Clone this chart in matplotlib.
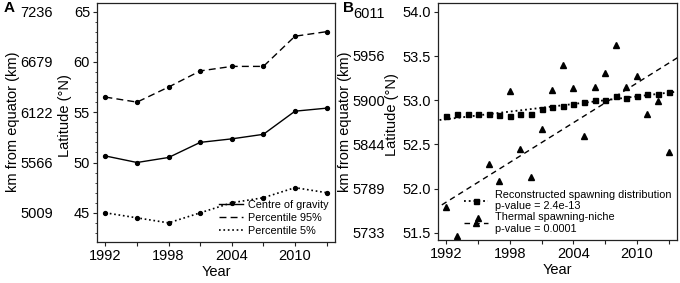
import numpy as np
import matplotlib
matplotlib.use('Agg')
import matplotlib.pyplot as plt
from matplotlib.lines import Line2D
from matplotlib.ticker import MultipleLocator

plt.rcParams['font.family'] = ['Liberation Sans', 'DejaVu Sans']

# panel A - latitude of centre of gravity and percentiles
years_a = [1992, 1995, 1998, 2001, 2004, 2007, 2010, 2013]
centre = [50.65, 50.0, 50.5, 52.0, 52.35, 52.8, 55.1, 55.4]
p95 = [56.5, 56.0, 57.5, 59.1, 59.55, 59.55, 62.55, 63.0]
p5 = [45.0, 44.5, 44.0, 45.0, 46.0, 46.5, 47.5, 47.0]
lat_ticks_a = [45, 50, 55, 60, 65]
km_ticks_a = [5009, 5566, 6122, 6679, 7236]

# panel B - yearly spawning latitude
years_b = list(range(1992, 2014))
recon = [52.82, 52.84, 52.84, 52.85, 52.85, 52.83, 52.82, 52.84, 52.85, 52.90, 52.92,
         52.94, 52.96, 52.98, 53.00, 53.00, 53.05, 53.03, 53.05, 53.07, 53.07, 53.09]
thermal = [51.79, 51.46, 51.26, 51.67, 52.28, 52.09, 53.11, 52.45, 52.13, 52.68, 53.12,
           53.40, 53.14, 52.60, 53.15, 53.31, 53.63, 53.15, 53.27, 52.85, 52.99, 52.42]
lat_ticks_b = [51.5, 52.0, 52.5, 53.0, 53.5, 54.0]
km_ticks_b = [5733, 5789, 5844, 5900, 5956, 6011]

xticks = list(range(1992, 2014, 3))
xtick_labels = ['1992', '', '1998', '', '2004', '', '2010', '']

KM_PER_DEG = 111.32
fs = 10.5
W, H = 680, 283

fig = plt.figure(figsize=(6.8, 2.83), dpi=100)
axA = fig.add_axes([97 / W, 1 - 242 / H, 238 / W, 239 / H])
axB = fig.add_axes([438 / W, 1 - 240 / H, 239 / W, 237 / H])


def style(ax):
    for s in ax.spines.values():
        s.set_linewidth(0.9)
        s.set_color('#222222')
    ax.tick_params(direction='out', length=3, width=0.8, pad=2, labelsize=fs,
                   color='#222222')
    ax.set_xticks(xticks)
    ax.set_xticklabels(xtick_labels)
    ax.set_xlim(1991.2, 2013.8)
    ax.set_xlabel('Year', fontsize=fs)
    ax.xaxis.set_label_coords(0.5, -0.095)


# ---- A ----
axA.plot(years_a, centre, '-', color='black', lw=1.0, marker='o', ms=2.8)
axA.plot(years_a, p95, '--', color='black', lw=1.0, marker='o', ms=2.8, dashes=(5, 3))
axA.plot(years_a, p5, ':', color='black', lw=1.2, marker='o', ms=2.8)
style(axA)
axA.set_ylim(42.1, 65.85)
axA.set_yticks(lat_ticks_a)
axA.yaxis.set_minor_locator(MultipleLocator(1))
axA.tick_params(axis='y', which='minor', length=1.5, width=0.6, color='#222222')
axA.set_ylabel('Latitude (°N)', fontsize=fs)
axA.yaxis.set_label_coords(-0.105, 0.53)

secA = axA.secondary_yaxis(-0.185, functions=(lambda x: x * KM_PER_DEG, lambda x: x / KM_PER_DEG))
secA.set_yticks(km_ticks_a)
secA.set_yticklabels([str(k) for k in km_ticks_a])
secA.spines['left'].set_visible(False)
secA.tick_params(length=0, pad=0, labelsize=fs)
fig.text(13 / W, 1 - 122 / H, 'km from equator (km)', rotation=90, fontsize=fs,
         ha='center', va='center')

hA = [Line2D([], [], color='black', lw=1.0, ls='-'),
      Line2D([], [], color='black', lw=1.0, ls='--', dashes=(5, 3)),
      Line2D([], [], color='black', lw=1.2, ls=':')]
axA.legend(hA, ['Centre of gravity', 'Percentile 95%', 'Percentile 5%'],
           loc='lower right', frameon=False, fontsize=7.8, handlelength=2.2,
           handletextpad=0.5, labelspacing=0.3, borderaxespad=0.15)
fig.text(4 / W, 1 - 8 / H, 'A', fontsize=11, weight='bold', va='center')

# ---- B ----
xs = np.array([1990.0, 2015.0])
cr = np.polyfit(years_b, recon, 1)
ct = np.polyfit(years_b, thermal, 1)
axB.plot(xs, np.polyval(cr, xs), ':', color='black', lw=1.3)
axB.plot(xs, np.polyval(ct, xs), '--', color='black', lw=1.0, dashes=(4, 3))
axB.plot(years_b, recon, 's', color='black', ms=3.6, ls='none')
axB.plot(years_b, thermal, '^', color='black', ms=4.5, ls='none')
style(axB)
axB.set_ylim(51.42, 54.1)
axB.set_yticks(lat_ticks_b)
axB.set_yticklabels(['%.1f' % v for v in lat_ticks_b])
axB.set_ylabel('Latitude (°N)', fontsize=fs)
axB.yaxis.set_label_coords(-0.165, 0.53)

secB = axB.secondary_yaxis(-0.222, functions=(lambda x: x * KM_PER_DEG, lambda x: x / KM_PER_DEG))
secB.set_yticks(km_ticks_b)
secB.set_yticklabels([str(k) for k in km_ticks_b])
secB.spines['left'].set_visible(False)
secB.tick_params(length=0, pad=0, labelsize=fs)
fig.text(345 / W, 1 - 122 / H, 'km from equator (km)', rotation=90, fontsize=fs,
         ha='center', va='center')

hB = [Line2D([], [], color='black', lw=1.3, ls=':', marker='s', ms=3.6),
      Line2D([], [], color='black', lw=1.0, ls='--', dashes=(4, 3), marker='^', ms=4.5)]
axB.legend(hB, ['Reconstructed spawning distribution\np-value = 2.4e-13',
                'Thermal spawning-niche\np-value = 0.0001'],
           loc='lower right', frameon=False, fontsize=7.8, handlelength=2.2,
           handletextpad=0.6, labelspacing=0.1, borderaxespad=0.15)
fig.text(343 / W, 1 - 8 / H, 'B', fontsize=11, weight='bold', va='center')

fig.savefig('out.png', dpi=100)
